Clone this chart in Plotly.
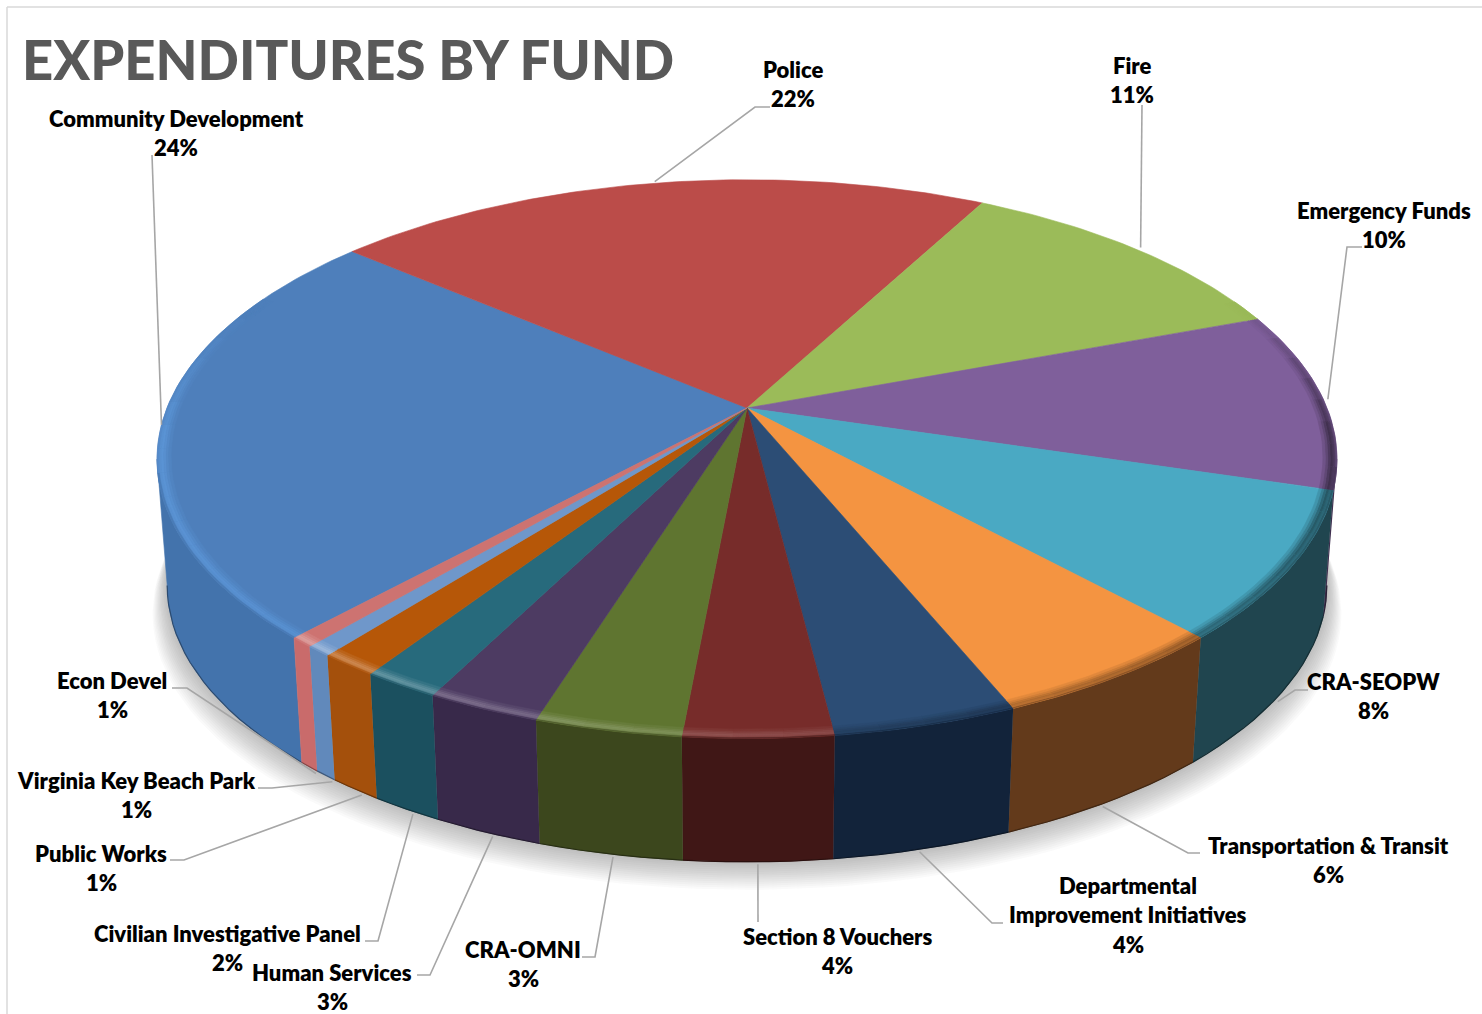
import numpy as np
import plotly.graph_objects as go

# ---------- data ----------
categories = ["Community Development", "Police", "Fire", "Emergency Funds", "CRA-SEOPW",
              "Transportation & Transit", "Departmental Improvement Initiatives", "Section 8 Vouchers",
              "CRA-OMNI", "Human Services", "Civilian Investigative Panel", "Public Works",
              "Virginia Key Beach Park", "Econ Devel"]
values = [24.42, 21.58, 11.5, 10.36, 8.5, 5.61, 4.25, 3.44, 3.39, 2.64, 1.78, 1.36, 0.61, 0.56]
percent_labels = ["24%", "22%", "11%", "10%", "8%", "6%", "4%", "4%", "3%", "3%", "2%", "1%", "1%", "1%"]
top_colors = ["#4E7FBB", "#BB4C49", "#9BBB59", "#7F5F9B", "#4AA9C3", "#F49441", "#2C4D75",
              "#772C2A", "#5F7530", "#4D3B62", "#276A7C", "#B65708", "#6F97CA", "#CD7371"]
wall_colors = ["#4373AC", "#8A3634", "#6F8640", "#3F3050", "#20454F", "#633A1B", "#12233A",
               "#401716", "#3C471D", "#38294A", "#1B505F", "#A4500C", "#6189BB", "#C96B6B"]
label_lines = [["Community Development", "24%"], ["Police", "22%"], ["Fire", "11%"],
               ["Emergency Funds", "10%"], ["CRA-SEOPW", "8%"], ["Transportation & Transit", "6%"],
               ["Departmental", "Improvement Initiatives", "4%"], ["Section 8 Vouchers", "4%"],
               ["CRA-OMNI", "3%"], ["Human Services", "3%"], ["Civilian Investigative Panel", "2%"],
               ["Public Works", "1%"], ["Virginia Key Beach Park", "1%"], ["Econ Devel", "1%"]]
label_x = [176, 793, 1132, 1384, 1373, 1328, 1128, 837, 523, 332, 227, 101, 136, 112]
label_y = [118, 69, 65, 210, 681, 845, 885, 936, 949, 972, 933, 853, 780, 680]
leader_elbows = [[(152, 155)], [(770, 107), (755, 107)], [(1142, 105)], [(1362, 247), (1347, 247)],
                 [(1308, 690), (1295, 690)], [(1200, 853), (1188, 853)], [(1003, 923), (992, 923)],
                 [(758, 922)], [(582, 957), (595, 957)], [(417, 975), (430, 975)],
                 [(365, 941), (378, 941)], [(170, 860), (184, 860)], [(258, 788), (272, 788)],
                 [(172, 688), (187, 688)]]
leader_on_top_rim = [True, True, True, True, False, False, False, False, False, False, False, False, False, False]
leader_radius = [1.0, 1.008, 1.012, 1.008, 1.006, 1.006, 1.006, 1.006, 1.006, 1.006, 1.006, 1.006, 1.006, 1.006]
title_text = "EXPENDITURES BY FUND"

# ---------- projection ----------
START = 222.5
CX, CY, A, B, K = 747, 408, 580, 270, 0.183
CXB, CYB, AB, BB = 747, 535, 570, 267
W, H = 1482, 1014
SIL = np.degrees(np.arcsin(K))  # silhouette angle of the disc


def project(theta, r=1.0, ring="top"):
    t = np.radians(theta)
    X, Y = r * np.sin(t), -r * np.cos(t)
    s = 1 / (1 - K * Y)
    if ring == "top":
        return CX + A * X * s, CY + B * Y * s
    return CXB + AB * X * s, CYB + BB * Y * s


def hex2rgb(c):
    return np.array([int(c[i:i + 2], 16) for i in (1, 3, 5)], float)


def mix(c1, c2, a):
    v = hex2rgb(c1) * (1 - a) + hex2rgb(c2) * a
    return "#%02x%02x%02x" % tuple(int(round(x)) for x in v)


def poly(xs, ys, color):
    return go.Scatter(x=list(xs), y=list(ys), mode="lines", fill="toself", fillcolor=color,
                      line=dict(color=color, width=0.6), hoverinfo="skip", showlegend=False)


total = sum(values)
sweeps = [v / total * 360 for v in values]
edges = START + np.concatenate([[0], np.cumsum(sweeps)])
traces = []

# soft shadow under the disc
th = np.linspace(0, 360, 181)
for i in range(14, 0, -1):
    bx, by = project(th, 1.0, "bottom")
    sx = CXB + (bx - CXB) * (1 + i * 0.0018)
    sy = by + i * 2.0
    traces.append(go.Scatter(x=sx, y=sy, mode="lines", fill="toself", fillcolor="rgba(90,90,90,0.028)",
                             line=dict(width=0), hoverinfo="skip", showlegend=False))

# side walls, only on the part of the rim that faces the viewer
lo, hi = 90 + SIL, 270 - SIL
for i in range(len(values)):
    for shift in (0, 360, -360):
        a0, a1 = max(edges[i] + shift, lo), min(edges[i + 1] + shift, hi)
        if a1 <= a0:
            continue
        t = np.linspace(a0, a1, max(2, int((a1 - a0) / 2) + 2))
        tx, ty = project(t, 1.0, "top")
        bx, by = project(t, 1.0, "bottom")
        traces.append(poly(np.r_[tx, bx[::-1]], np.r_[ty, by[::-1]], wall_colors[i]))
        traces.append(go.Scatter(x=bx, y=by, mode="lines",
                                 line=dict(color=mix(wall_colors[i], "#000000", 0.35), width=1.2),
                                 hoverinfo="skip", showlegend=False))

# top faces
for i in range(len(values)):
    t = np.linspace(edges[i], edges[i + 1], max(3, int(sweeps[i]) + 2))
    x, y = project(t, 1.0, "top")
    traces.append(poly(np.r_[CX, x, CX], np.r_[CY, y, CY], top_colors[i]))

# bevel: narrow, soft bands along the rim (outer radius, inner radius, strength)
bands = [(0.9965, 1.0, 0.55), (0.993, 0.9965, 0.85), (0.989, 0.993, 1.0), (0.985, 0.989, 0.8),
         (0.981, 0.985, 0.5), (0.977, 0.981, 0.25)]
for i in range(len(values)):
    a0, a1 = edges[i], edges[i + 1]
    n = max(1, int(np.ceil((a1 - a0) / 5)))
    ee = np.linspace(a0, a1, n + 1)
    for j in range(n):
        mid = (ee[j] + ee[j + 1]) / 2
        Xm, Ym = np.sin(np.radians(mid)), -np.cos(np.radians(mid))
        vis = np.clip((Ym + 0.4) / 0.5, 0, 1)
        if vis <= 0:
            continue
        for b, (r1, r0, strength) in enumerate(bands):
            base = top_colors[i]
            if Xm <= 0.15:
                amt = 0.34 * strength * (0.4 - 0.6 * (Xm - 0.15)) * vis
                col = mix(base, "#6FB6FF" if i == 0 else "#FFFFFF", min(amt, 0.5))
            else:
                amt = 0.5 * strength * (0.25 + 0.75 * Xm) * vis
                col = mix(base, "#000000", amt)
            if b == 0 and Ym > 0.2:
                col = mix(col, wall_colors[i], 0.6)
            t = np.linspace(ee[j], ee[j + 1], 4)
            ox, oy = project(t, r1)
            ix, iy = project(t, r0)
            traces.append(poly(np.r_[ox, ix[::-1]], np.r_[oy, iy[::-1]], col))

# leader lines: outer end sits on the rim at each slice's middle angle
for i in range(len(values)):
    mid = ((edges[i] + edges[i + 1]) / 2) % 360
    if leader_on_top_rim[i]:
        ex, ey = project(mid, leader_radius[i], "top")
    else:
        ex, ey = project(180 + (mid - 180) * 0.97, leader_radius[i], "bottom")
    pts = leader_elbows[i] + [(float(ex), float(ey))]
    traces.append(go.Scatter(x=[p[0] for p in pts], y=[p[1] for p in pts], mode="lines",
                             line=dict(color="#A6A6A6", width=1.6), hoverinfo="skip", showlegend=False))

fig = go.Figure(traces)

annotations = [dict(x=20, y=59, text=title_text, showarrow=False, xanchor="left", yanchor="middle",
                    font=dict(family="Lato", size=54.4, color="#595959", weight=900))]
for lines, lx, ly in zip(label_lines, label_x, label_y):
    for k, line in enumerate(lines):
        annotations.append(dict(x=lx, y=ly + k * 29.6, text=line, showarrow=False,
                                xanchor="center", yanchor="middle",
                                font=dict(family="Lato", size=22, color="#000000", weight=800)))

border = dict(color="#D9D9D9", width=1.5)
fig.update_layout(
    width=W, height=H, margin=dict(l=0, r=0, t=0, b=0), autosize=False,
    paper_bgcolor="white", plot_bgcolor="white", showlegend=False,
    xaxis=dict(range=[0, W], visible=False, fixedrange=True),
    yaxis=dict(range=[H, 0], visible=False, fixedrange=True),
    annotations=annotations,
    shapes=[dict(type="line", x0=7, x1=W, y0=7, y1=7, line=border, layer="below"),
            dict(type="line", x0=7, x1=7, y0=7, y1=H, line=border, layer="below")],
)
fig.write_html("out.html", post_script="document.body.style.margin='0';",
               config={"displayModeBar": False})
